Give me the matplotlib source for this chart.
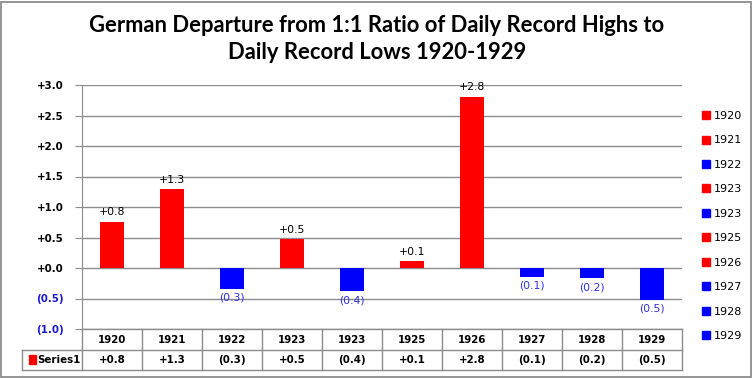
import matplotlib
matplotlib.use("Agg")
import matplotlib.pyplot as plt
from matplotlib.patches import Rectangle
from matplotlib.lines import Line2D

# ---- data ----
categories = ["1920", "1921", "1922", "1923", "1923", "1925", "1926", "1927", "1928", "1929"]
values = [0.76, 1.29, -0.34, 0.48, -0.38, 0.12, 2.81, -0.14, -0.17, -0.52]
yticks = [-1.0, -0.5, 0.0, 0.5, 1.0, 1.5, 2.0, 2.5, 3.0]
series_name = "Series1"
title = "German Departure from 1:1 Ratio of Daily Record Highs to\nDaily Record Lows 1920-1929"

RED = "#FF0000"
BLUE = "#0000FF"
NEG_TXT = "#3030E0"
GRID = "#8C8C8C"
FONT = "DejaVu Sans"


def fmt(v):
    return "+%.1f" % v if v >= 0 else "(%.1f)" % abs(v)


W, H = 754, 378
fig = plt.figure(figsize=(W / 100, H / 100), dpi=100)

# outer border
fig.patches.append(Rectangle((1 / W, 1 / H), (W - 4) / W, (H - 3) / H, transform=fig.transFigure,
                             fill=False, edgecolor=GRID, linewidth=1.3))

# main axes (pixel geometry)
L, R, T, B = 82, 682, 85, 329
ax = fig.add_axes([L / W, (H - B) / H, (R - L) / W, (B - T) / H])
x = list(range(len(categories)))
colors = [RED if v >= 0 else BLUE for v in values]
bars = ax.bar(x, values, width=0.4, color=colors, zorder=3)
ax.set_xlim(-0.5, len(categories) - 0.5)
ax.set_ylim(-1.0, 3.0)
ax.set_yticks(yticks)
ax.set_yticklabels([fmt(t) for t in yticks])
for lbl, t in zip(ax.get_yticklabels(), yticks):
    lbl.set_color("black" if t >= 0 else "#1a1acc")
    lbl.set_fontweight("bold")
    lbl.set_fontfamily(FONT)
    lbl.set_fontsize(7.4)
ax.tick_params(axis="y", length=5, color=GRID, pad=8)
ax.set_xticks([])
ax.grid(axis="y", color=GRID, linewidth=1.0, zorder=0)
for s in ["top", "right", "bottom"]:
    ax.spines[s].set_visible(False)
ax.spines["left"].set_color(GRID)
ax.set_facecolor("none")

for xi, v in zip(x, values):
    if v >= 0:
        ax.annotate(fmt(v), (xi, v), xytext=(0, 3), textcoords="offset points",
                    ha="center", va="bottom", fontsize=7.8, family=FONT, color="black")
    else:
        ax.annotate(fmt(v), (xi, v), xytext=(0, -3), textcoords="offset points",
                    ha="center", va="top", fontsize=7.8, family=FONT, color=NEG_TXT)

# data table axes
TB = 370
tax = fig.add_axes([L / W, (H - TB) / H, (R - L) / W, (TB - B) / H])
tax.set_xlim(-0.5, len(categories) - 0.5)
tax.set_ylim(2, 0)
tax.axis("off")
n = len(categories)
tax.add_line(Line2D([-0.5, n - 0.5], [0, 0], color=GRID, lw=1, clip_on=False))
for yy in (1, 2):
    tax.add_line(Line2D([-1.5, n - 0.5], [yy, yy], color=GRID, lw=1, clip_on=False))
tax.add_line(Line2D([-1.5, -1.5], [1, 2], color=GRID, lw=1, clip_on=False))
for k in range(n + 1):
    tax.add_line(Line2D([k - 0.5, k - 0.5], [0, 2], color=GRID, lw=1, clip_on=False))
for xi, c, v in zip(x, categories, values):
    tax.text(xi, 0.52, c, ha="center", va="center", fontsize=7.4, fontweight="bold", family=FONT)
    tax.text(xi, 1.52, fmt(v), ha="center", va="center", fontsize=7.4, fontweight="bold", family=FONT)
tax.add_patch(Rectangle((-1.38, 1.28), 0.11, 0.44, color=RED, clip_on=False))
tax.text(-1.24, 1.52, series_name, ha="left", va="center", fontsize=7.4, fontweight="bold", family=FONT)

# legend
handles = [Line2D([], [], linestyle="none", marker="s", markersize=5.5, markerfacecolor=c,
                  markeredgecolor=c) for c in colors]
fig.legend(handles, categories, loc="upper left", bbox_to_anchor=(703 / W, 1 - 111 / H),
           frameon=False, handlelength=0.6, handletextpad=0.35, labelspacing=1.3,
           borderaxespad=0, borderpad=0, prop={"family": FONT, "size": 8.0})

fig.text(377 / W, 1 - 39 / H, title, ha="center", va="center", fontsize=15.8, fontweight="bold",
         family="Lato", linespacing=1.35)

fig.savefig("out.png", dpi=100)
